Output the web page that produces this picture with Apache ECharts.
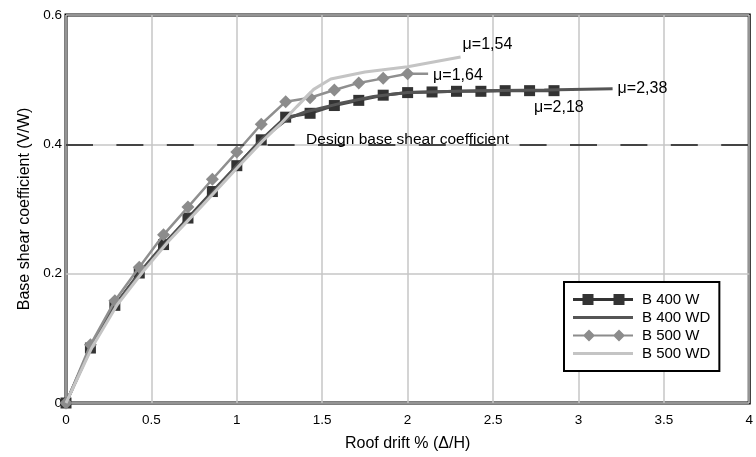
<!DOCTYPE html>
<html>
<head>
<meta charset="utf-8">
<script src="https://cdn.jsdelivr.net/npm/echarts@6/dist/echarts.min.js"></script>
<style>
html,body{margin:0;padding:0;background:#fff;}
#chart{width:756px;height:457px;}
</style>
</head>
<body>
<div id="chart"></div>
<script>
// ---- data ----
const seriesNames = ['B 400 W', 'B 400 WD', 'B 500 W', 'B 500 WD'];
const driftB400W = [0, 0.143, 0.286, 0.429, 0.571, 0.714, 0.857, 1.0, 1.143, 1.286, 1.429, 1.571, 1.714, 1.857, 2.0, 2.143, 2.286, 2.429, 2.571, 2.714, 2.857];
const shearB400W = [0, 0.085, 0.151, 0.201, 0.245, 0.286, 0.327, 0.367, 0.407, 0.442, 0.448, 0.46, 0.468, 0.476, 0.48, 0.481, 0.482, 0.482, 0.483, 0.483, 0.483];
const driftB400WD = [0, 0.15, 0.3, 0.45, 0.6, 0.8, 1.0, 1.15, 1.3, 1.4, 1.6, 1.8, 2.0, 2.4, 2.8, 3.2];
const shearB400WD = [0, 0.088, 0.155, 0.206, 0.252, 0.308, 0.367, 0.409, 0.44, 0.45, 0.463, 0.474, 0.48, 0.483, 0.484, 0.486];
const driftB500W = [0, 0.143, 0.286, 0.429, 0.571, 0.714, 0.857, 1.0, 1.143, 1.286, 1.429, 1.571, 1.714, 1.857, 2.0, 2.12];
const shearB500W = [0, 0.09, 0.158, 0.21, 0.26, 0.303, 0.346, 0.388, 0.431, 0.466, 0.472, 0.484, 0.495, 0.502, 0.509, 0.509];
const driftB500WD = [0, 0.15, 0.3, 0.45, 0.6, 0.8, 1.0, 1.15, 1.25, 1.35, 1.45, 1.55, 1.75, 2.0, 2.31];
const shearB500WD = [0, 0.085, 0.152, 0.203, 0.25, 0.306, 0.363, 0.405, 0.43, 0.458, 0.485, 0.501, 0.512, 0.52, 0.535];
const ductilityLabels = ['μ=2,18', 'μ=2,38', 'μ=1,64', 'μ=1,54'];
const designShear = 0.4;
const designLabel = 'Design base shear coefficient';
const xTitle = 'Roof drift % (Δ/H)';
const yTitle = 'Base shear coefficient (V/W)';

function pairs(xs, ys) { return xs.map((x, i) => [x, ys[i]]); }

const FONT = '"Liberation Sans", Arial, sans-serif';
const chart = echarts.init(document.getElementById('chart'), null, {renderer: 'canvas'});

const b500WData = pairs(driftB500W, shearB500W);
b500WData[b500WData.length - 1] = {value: b500WData[b500WData.length - 1], symbolSize: 0};

const tiny = 'M0,0h0.01v0.01h-0.01Z M63.99,11.99h0.01v0.01h-0.01Z ';
const icons = [
  'path://' + tiny + 'M0,4.5H60V7.5H0Z M9.5,0.5h11v11h-11Z M40.5,0.5h11v11h-11Z',
  'path://' + tiny + 'M0,4.5H60V7.5H0Z',
  'path://' + tiny + 'M0,5H60V7H0Z M16,0L22,6L16,12L10,6Z M46,0L52,6L46,12L40,6Z',
  'path://' + tiny + 'M0,4.5H60V7.5H0Z'
];

const endLbl = (text, dist, off) => ({
  show: true, formatter: text, color: '#000', fontSize: 16, fontFamily: FONT,
  distance: dist, offset: off
});

chart.setOption({
  animation: false,
  backgroundColor: '#fff',
  textStyle: {fontFamily: FONT},
  grid: {left: 66, right: 3, top: 15, bottom: 48, show: true, borderColor: '#000', borderWidth: 3, backgroundColor: 'transparent'},
  legend: {
    orient: 'vertical', left: 564, top: 282,
    padding: [9, 9, 9, 9],
    itemWidth: 64, itemHeight: 12, itemGap: 1,
    backgroundColor: '#fff', borderColor: '#000', borderWidth: 2,
    itemStyle: {borderWidth: 0},
    textStyle: {fontSize: 15, lineHeight: 17, color: '#000', fontFamily: FONT},
    data: seriesNames.map((n, i) => ({name: n, icon: icons[i]}))
  },
  xAxis: {
    type: 'value', min: 0, max: 4, interval: 0.5,
    name: xTitle, nameLocation: 'middle', nameGap: 33,
    nameTextStyle: {fontSize: 16, color: '#000', fontFamily: FONT},
    axisLine: {show: false}, axisTick: {show: false},
    axisLabel: {fontSize: 13.5, color: '#000', margin: 10, fontFamily: FONT},
    splitLine: {show: true, lineStyle: {color: '#c6c6c6', width: 1.5}}
  },
  yAxis: {
    type: 'value', min: 0, max: 0.6, interval: 0.2,
    name: yTitle, nameLocation: 'middle', nameGap: 33,
    nameTextStyle: {fontSize: 16, color: '#000', fontFamily: FONT},
    axisLine: {show: false}, axisTick: {show: false},
    axisLabel: {fontSize: 13.5, color: '#000', margin: 4, fontFamily: FONT},
    splitLine: {show: true, lineStyle: {color: '#c6c6c6', width: 1.5}}
  },
  series: [
    {
      name: seriesNames[0], type: 'line', data: pairs(driftB400W, shearB400W),
      symbol: 'rect', symbolSize: 11, showSymbol: true,
      color: '#333',
      lineStyle: {color: '#4a4a4a', width: 3},
      itemStyle: {color: '#333', borderWidth: 0},
      endLabel: endLbl(ductilityLabels[0], 0, [-20, 17]),
      markLine: {
        silent: true, symbol: 'none',
        lineStyle: {color: '#444', width: 2, type: [27, 23.4]},
        label: {show: true, position: 'middle', formatter: designLabel, fontSize: 15.5, color: '#000', fontFamily: FONT, distance: -3},
        data: [{yAxis: designShear}]
      },
      z: 2
    },
    {
      name: seriesNames[1], type: 'line', data: pairs(driftB400WD, shearB400WD),
      showSymbol: false, symbol: 'none',
      color: '#555',
      lineStyle: {color: '#555', width: 3},
      itemStyle: {color: '#555', borderWidth: 0},
      endLabel: endLbl(ductilityLabels[1], 5, [0, 0]),
      z: 3
    },
    {
      name: seriesNames[2], type: 'line', data: b500WData,
      symbol: 'diamond', symbolSize: 13, showSymbol: true,
      color: '#8c8c8c',
      lineStyle: {color: '#8f8f8f', width: 2.5},
      itemStyle: {color: '#8c8c8c', borderWidth: 0},
      endLabel: endLbl(ductilityLabels[2], 5, [0, 2]),
      z: 4
    },
    {
      name: seriesNames[3], type: 'line', data: pairs(driftB500WD, shearB500WD),
      showSymbol: false, symbol: 'none',
      color: '#c4c4c4',
      lineStyle: {color: '#c4c4c4', width: 3},
      itemStyle: {color: '#c4c4c4', borderWidth: 0},
      endLabel: endLbl(ductilityLabels[3], 2, [0, -12]),
      z: 5
    }
  ]
});
</script>
</body>
</html>
